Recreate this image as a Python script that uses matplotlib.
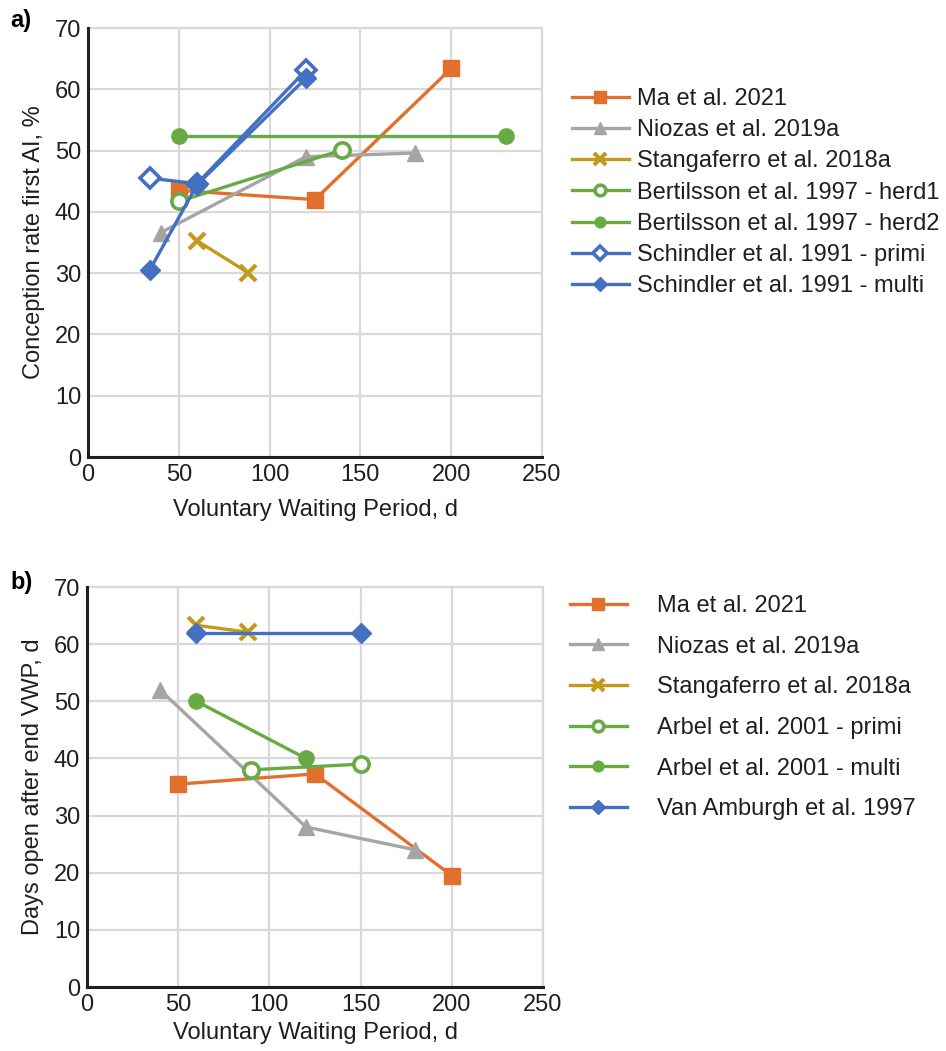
import matplotlib
matplotlib.use("Agg")
import matplotlib.pyplot as plt

plt.rcParams['font.family'] = ['Liberation Sans', 'DejaVu Sans']

# ---------------- Data: panel a ----------------
a_labels = ["Ma et al. 2021", "Niozas et al. 2019a", "Stangaferro et al. 2018a",
            "Bertilsson et al. 1997 - herd1", "Bertilsson et al. 1997 - herd2",
            "Schindler et al. 1991 - primi", "Schindler et al. 1991 - multi"]
a_ma_x = [50, 125, 200]
a_ma_y = [43.5, 42.0, 63.4]
a_nio_x = [40, 120, 180]
a_nio_y = [36.6, 49.0, 49.6]
a_sta_x = [60, 88]
a_sta_y = [35.3, 30.1]
a_b1_x = [50, 140]
a_b1_y = [41.7, 50.1]
a_b2_x = [50, 230]
a_b2_y = [52.4, 52.4]
a_sp_x = [34, 60, 120]
a_sp_y = [45.5, 44.6, 63.1]
a_sm_x = [34, 60, 120]
a_sm_y = [30.5, 44.4, 61.8]

# ---------------- Data: panel b ----------------
b_labels = ["Ma et al. 2021", "Niozas et al. 2019a", "Stangaferro et al. 2018a",
            "Arbel et al. 2001 - primi", "Arbel et al. 2001 - multi",
            "Van Amburgh et al. 1997"]
b_ma_x = [50, 125, 200]
b_ma_y = [35.5, 37.3, 19.5]
b_nio_x = [40, 120, 180]
b_nio_y = [52.0, 28.0, 24.0]
b_sta_x = [60, 88]
b_sta_y = [63.3, 62.1]
b_ap_x = [90, 150]
b_ap_y = [38.0, 39.0]
b_am_x = [60, 120]
b_am_y = [50.0, 40.0]
b_va_x = [60, 150]
b_va_y = [62.0, 62.0]

x_ticks = [0, 50, 100, 150, 200, 250]
y_ticks = [0, 10, 20, 30, 40, 50, 60, 70]

ORANGE = "#E2702D"
GREY = "#A5A5A5"
GOLD = "#C49A1C"
GREEN = "#6AAA44"
BLUE = "#4370C2"
GRID = "#D9D9D9"
TXT = "#1f1f1f"

W, H = 946, 1051
fig = plt.figure(figsize=(W / 100, H / 100), dpi=100)

FS = 17
LW = 2.4
MS = 12


def make_axes(l, t, r, b):
    return fig.add_axes([l / W, 1 - b / H, (r - l) / W, (b - t) / H])


def style(ax, ylabel):
    ax.set_xlim(0, 250)
    ax.set_ylim(0, 70)
    ax.set_xticks(x_ticks)
    ax.set_yticks(y_ticks)
    ax.grid(True, color=GRID, linewidth=1.6, zorder=0)
    ax.set_axisbelow(True)
    for s in ["top", "right"]:
        ax.spines[s].set_color(GRID)
        ax.spines[s].set_linewidth(1.6)
    for s in ["left", "bottom"]:
        ax.spines[s].set_color("#202020")
        ax.spines[s].set_linewidth(2.2)
        ax.spines[s].set_zorder(5)
    ax.tick_params(length=0, labelsize=FS, colors=TXT, pad=5)
    ax.set_xlabel("Voluntary Waiting Period, d", fontsize=FS, color=TXT)
    ax.set_ylabel(ylabel, fontsize=FS, color=TXT)
    ax.yaxis.set_label_coords(-0.094, 0.5)


def plot_series(ax, x, y, color, marker, label, open_=False, ms=MS, mew=None):
    kw = dict(color=color, linewidth=LW, marker=marker, markersize=ms,
              markeredgecolor=color, label=label, clip_on=False, zorder=3)
    if open_:
        kw.update(markerfacecolor="white", markeredgewidth=2.6)
    else:
        kw.update(markerfacecolor=color)
        if mew is not None:
            kw.update(markeredgewidth=mew)
    ax.plot(x, y, **kw)


# ---------------- Panel a ----------------
axa = make_axes(88, 28, 542, 457)
style(axa, "Conception rate first AI, %")
axa.xaxis.set_label_coords(0.5, -0.097)
plot_series(axa, a_ma_x, a_ma_y, ORANGE, "s", a_labels[0])
plot_series(axa, a_nio_x, a_nio_y, GREY, "^", a_labels[1])
plot_series(axa, a_sta_x, a_sta_y, GOLD, "x", a_labels[2], mew=3)
plot_series(axa, a_b1_x, a_b1_y, GREEN, "o", a_labels[3], open_=True, ms=11)
plot_series(axa, a_b2_x, a_b2_y, GREEN, "o", a_labels[4], ms=11)
plot_series(axa, a_sp_x, a_sp_y, BLUE, "D", a_labels[5], open_=True, ms=10)
plot_series(axa, a_sm_x, a_sm_y, BLUE, "D", a_labels[6], ms=10)

fig.legend(*axa.get_legend_handles_labels(), loc="upper left",
           bbox_to_anchor=(572 / W, 1 - 88 / H), frameon=False, fontsize=FS,
           borderpad=0, borderaxespad=0, handlelength=2.4, handletextpad=0.35,
           labelspacing=0.39, markerscale=0.7, labelcolor=TXT)

fig.text(10 / W, 1 - 20 / H, "a)", fontsize=FS, fontweight="bold",
         va="center", ha="left", color="black")

# ---------------- Panel b ----------------
axb = make_axes(87, 587, 543, 987)
style(axb, "Days open after end VWP, d")
axb.xaxis.set_label_coords(0.5, -0.088)
plot_series(axb, b_ma_x, b_ma_y, ORANGE, "s", b_labels[0])
plot_series(axb, b_nio_x, b_nio_y, GREY, "^", b_labels[1])
plot_series(axb, b_sta_x, b_sta_y, GOLD, "x", b_labels[2], mew=3)
plot_series(axb, b_ap_x, b_ap_y, GREEN, "o", b_labels[3], open_=True, ms=11)
plot_series(axb, b_am_x, b_am_y, GREEN, "o", b_labels[4], ms=11)
plot_series(axb, b_va_x, b_va_y, BLUE, "D", b_labels[5], ms=10)

fig.legend(*axb.get_legend_handles_labels(), loc="upper left",
           bbox_to_anchor=(570 / W, 1 - 595 / H), frameon=False, fontsize=FS,
           borderpad=0, borderaxespad=0, handlelength=2.4, handletextpad=1.3,
           labelspacing=0.79, markerscale=0.7, labelcolor=TXT)

fig.text(10 / W, 1 - 583 / H, "b)", fontsize=FS, fontweight="bold",
         va="center", ha="left", color="black")

fig.savefig("out.png", dpi=100, facecolor="white")
